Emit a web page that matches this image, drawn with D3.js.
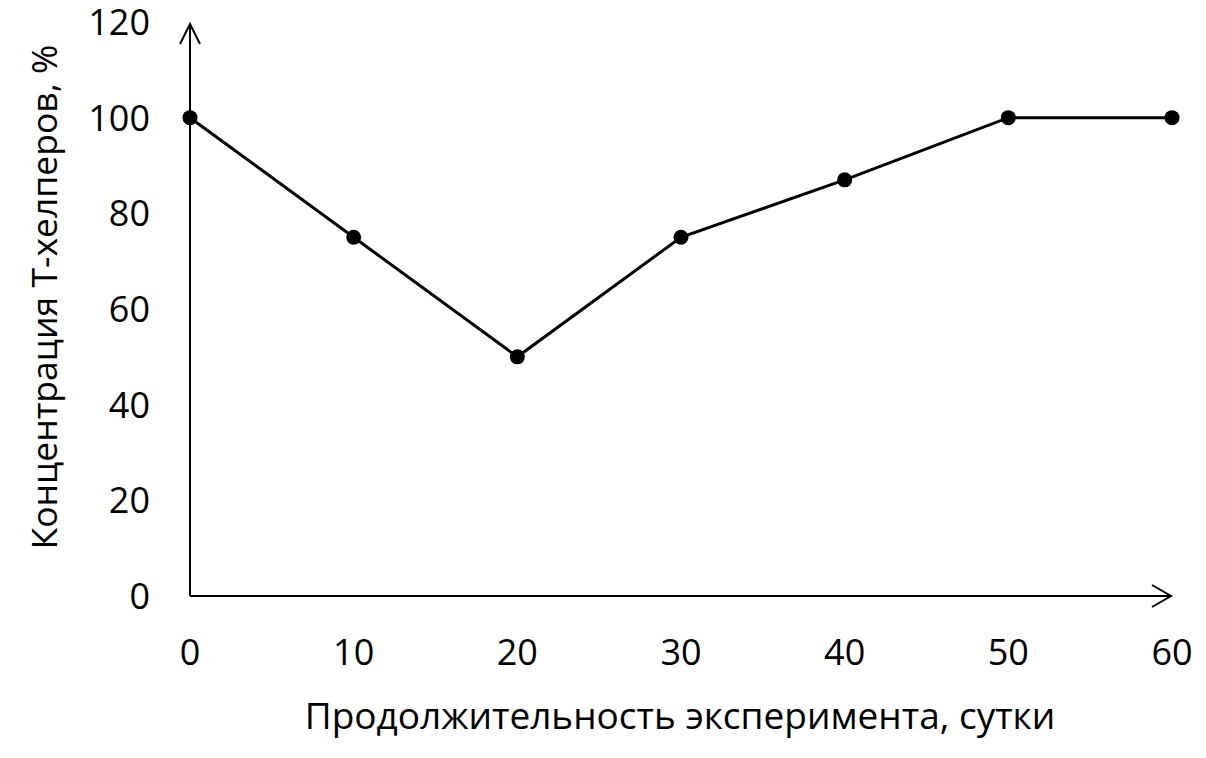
<!DOCTYPE html>
<html>
<head>
<meta charset="utf-8">
<script src="https://cdn.jsdelivr.net/npm/d3@7"></script>
<style>
  body { margin: 0; background: #fff; }
  svg text { font-family: "Open Sans", sans-serif; fill: #000; }
</style>
</head>
<body>
<svg id="chart" width="1206" height="758"></svg>
<script>
// data
const days = [0, 10, 20, 30, 40, 50, 60];
const helpers = [100, 75, 50, 75, 87, 100, 100];
const xTicks = [0, 10, 20, 30, 40, 50, 60];
const yTicks = [0, 20, 40, 60, 80, 100, 120];
const xTitle = "Продолжительность эксперимента, сутки";
const yTitle = "Концентрация Т-хелперов, %";

const svg = d3.select("#chart");

// plot area
const x = d3.scaleLinear().domain([0, 60]).range([190, 1172]);
const y = d3.scaleLinear().domain([0, 120]).range([596, 22]);

// y axis with arrow
svg.append("line")
  .attr("x1", x(0)).attr("x2", x(0))
  .attr("y1", y(0)).attr("y2", 24)
  .attr("stroke", "#000").attr("stroke-width", 2);
svg.append("path")
  .attr("d", `M${x(0) - 10},44 L${x(0)},24 L${x(0) + 10},44`)
  .attr("fill", "none").attr("stroke", "#000").attr("stroke-width", 2);

// x axis with arrow
svg.append("line")
  .attr("x1", x(0)).attr("x2", 1171)
  .attr("y1", y(0)).attr("y2", y(0))
  .attr("stroke", "#000").attr("stroke-width", 2);
svg.append("path")
  .attr("d", `M1152,${y(0) - 11} L1171,${y(0)} L1152,${y(0) + 11}`)
  .attr("fill", "none").attr("stroke", "#000").attr("stroke-width", 2);

// tick labels
svg.selectAll(".ylab")
  .data(yTicks)
  .join("text")
    .attr("class", "ylab")
    .attr("x", 150)
    .attr("y", d => y(d))
    .attr("dy", "0.36em")
    .attr("text-anchor", "end")
    .attr("font-size", 36)
    .text(d => d);

svg.selectAll(".xlab")
  .data(xTicks)
  .join("text")
    .attr("class", "xlab")
    .attr("x", d => x(d))
    .attr("y", 652)
    .attr("dy", "0.36em")
    .attr("text-anchor", "middle")
    .attr("font-size", 36)
    .text(d => d);

// axis titles
svg.append("text")
  .attr("x", 680).attr("y", 729)
  .attr("text-anchor", "middle")
  .attr("font-size", 37)
  .text(xTitle);

svg.append("text")
  .attr("transform", "translate(57,297) rotate(-90)")
  .attr("text-anchor", "middle")
  .attr("font-size", 35.5)
  .text(yTitle);

// series
const pts = days.map((d, i) => ({ d, v: helpers[i] }));

svg.append("path")
  .datum(pts)
  .attr("d", d3.line().x(p => x(p.d)).y(p => y(p.v)))
  .attr("fill", "none")
  .attr("stroke", "#000")
  .attr("stroke-width", 3);

svg.selectAll("circle")
  .data(pts)
  .join("circle")
    .attr("cx", p => x(p.d))
    .attr("cy", p => y(p.v))
    .attr("r", 7.5)
    .attr("fill", "#000");
</script>
</body>
</html>
